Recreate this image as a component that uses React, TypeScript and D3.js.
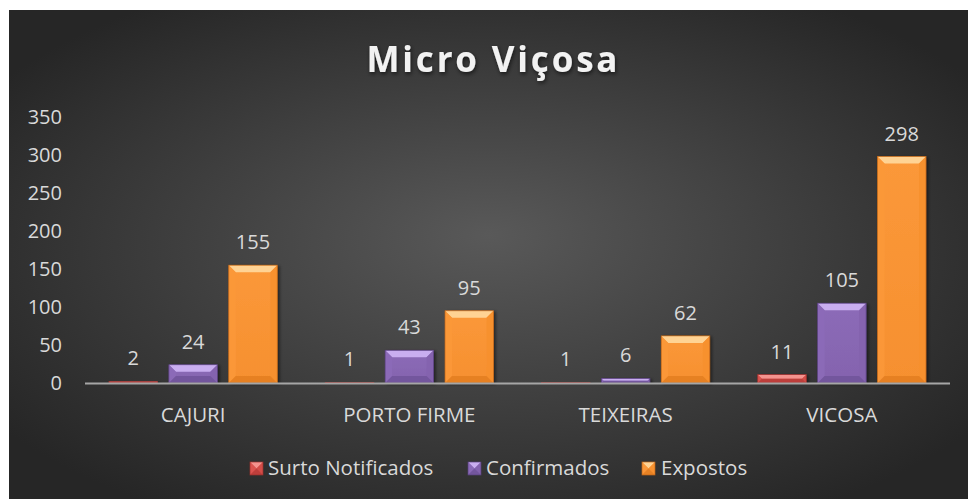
import React from "react";
import * as d3 from "d3";

const categories = ["CAJURI", "PORTO FIRME", "TEIXEIRAS", "VICOSA"];
const seriesNames = ["Surto Notificados", "Confirmados", "Expostos"];
const surto = [2, 1, 1, 11];
const confirmados = [24, 43, 6, 105];
const expostos = [155, 95, 62, 298];
const yTicks = [0, 50, 100, 150, 200, 250, 300, 350];

const W = 968;
const H = 499;
const plotLeft = 85;
const plotRight = 950;
const plotTop = 117;
const plotBottom = 383;

const palettes = [
  { face: "#dc5450", top: "#f4938e", side: "#d24c48", bottom: "#b83c38", edge: "#9a302d" },
  { face: "#8c6bb8", top: "#c9aef0", side: "#8463ae", bottom: "#70539a", edge: "#573f7c" },
  { face: "#fb983a", top: "#ffd394", side: "#f6902f", bottom: "#e37e22", edge: "#c06618" },
];

function BevelRect({ x, y, w, h, p, id }: any) {
  const b = Math.max(0, Math.min(7, h / 2, w / 2));
  const pts = (arr: number[][]) => arr.map((q) => q.join(",")).join(" ");
  return (
    <g>
      <rect x={x} y={y} width={w} height={h} fill={`url(#face${id})`} />
      <polygon points={pts([[x, y], [x + w, y], [x + w - b, y + b], [x + b, y + b]])} fill={p.top} />
      <polygon points={pts([[x, y], [x + b, y + b], [x + b, y + h - b], [x, y + h]])} fill={p.face} opacity={0.9} />
      <polygon points={pts([[x + w, y], [x + w - b, y + b], [x + w - b, y + h - b], [x + w, y + h]])} fill={p.side} opacity={0.9} />
      <polygon points={pts([[x, y + h], [x + b, y + h - b], [x + w - b, y + h - b], [x + w, y + h]])} fill={p.bottom} opacity={0.85} />
      <rect x={x} y={y} width={w} height={h} fill="none" stroke={p.edge} strokeWidth={0.7} />
    </g>
  );
}

export default function App() {
  const y = d3.scaleLinear().domain([0, 350]).range([plotBottom, plotTop]);
  const x0 = d3.scaleBand<string>().domain(categories).range([plotLeft, plotRight]).padding(0);
  const x1 = d3
    .scaleBand<number>()
    .domain([0, 1, 2])
    .range([24, x0.bandwidth() - 24])
    .paddingInner(0.19)
    .paddingOuter(0);
  const series = [surto, confirmados, expostos];
  const font = "'Open Sans', sans-serif";
  const textColor = "#d9d9d9";

  const legendItems = [
    { name: seriesNames[0], mx: 250, tx: 268 },
    { name: seriesNames[1], mx: 468, tx: 486 },
    { name: seriesNames[2], mx: 642, tx: 661 },
  ];

  return (
    <svg width={W} height={H} style={{ position: "absolute", left: 0, top: 0 }}>
      <defs>
        <radialGradient id="bg" cx="50%" cy="50%" r="62%" fx="50%" fy="46%">
          <stop offset="0%" stopColor="#595959" />
          <stop offset="100%" stopColor="#262626" />
        </radialGradient>
        {palettes.map((p, i) => (
          <linearGradient key={i} id={`face${i}`} x1="0" y1="0" x2="0" y2="1">
            <stop offset="0%" stopColor={p.face} />
            <stop offset="100%" stopColor={p.side} />
          </linearGradient>
        ))}
        <filter id="tshadow" x="-10%" y="-30%" width="120%" height="160%">
          <feDropShadow dx="1" dy="2" stdDeviation="2" floodColor="#000" floodOpacity="0.6" />
        </filter>
        <filter id="bshadow" x="-20%" y="-10%" width="140%" height="120%">
          <feDropShadow dx="2" dy="1" stdDeviation="1.5" floodColor="#000" floodOpacity="0.45" />
        </filter>
      </defs>
      <rect x={0} y={0} width={W} height={H} fill="#ffffff" />
      <rect x={9} y={10} width={W - 9} height={H - 10} fill="url(#bg)" />

      <text
        x={492}
        y={72}
        textAnchor="middle"
        fill="#f2f2f2"
        fontFamily={font}
        fontWeight={700}
        fontSize={35}
        textLength={251}
        lengthAdjust="spacing"
        filter="url(#tshadow)"
      >
        Micro Viçosa
      </text>

      {yTicks.map((t) => (
        <text
          key={t}
          x={62}
          y={y(t) + 7}
          textAnchor="end"
          fill={textColor}
          fontFamily={font}
          fontSize={20}
        >
          {t}
        </text>
      ))}

      {categories.map((c, ci) => (
        <g key={c} transform={`translate(${x0(c)},0)`}>
          {series.map((s, si) => {
            const v = s[ci];
            const bx = x1(si)!;
            const bw = x1.bandwidth();
            const by = y(v);
            const bh = plotBottom - by;
            return (
              <g key={si}>
                <g filter="url(#bshadow)">
                  <BevelRect x={bx} y={by} w={bw} h={bh} p={palettes[si]} id={si} />
                </g>
                <text
                  x={bx + bw / 2}
                  y={by - 16}
                  textAnchor="middle"
                  fill={textColor}
                  fontFamily={font}
                  fontSize={20}
                >
                  {v}
                </text>
              </g>
            );
          })}
          <text
            x={x0.bandwidth() / 2}
            y={422}
            textAnchor="middle"
            fill={textColor}
            fontFamily={font}
            fontSize={20.5}
          >
            {c}
          </text>
        </g>
      ))}

      <line x1={plotLeft} x2={plotRight} y1={plotBottom + 0.5} y2={plotBottom + 0.5} stroke="#a6a6a6" strokeWidth={2} />

      {legendItems.map((it, i) => (
        <g key={it.name}>
          <BevelRect x={it.mx} y={462} w={13} h={13} p={palettes[i]} id={i} />
          <text x={it.tx} y={475} fill={textColor} fontFamily={font} fontSize={20.5}>
            {it.name}
          </text>
        </g>
      ))}
    </svg>
  );
}
